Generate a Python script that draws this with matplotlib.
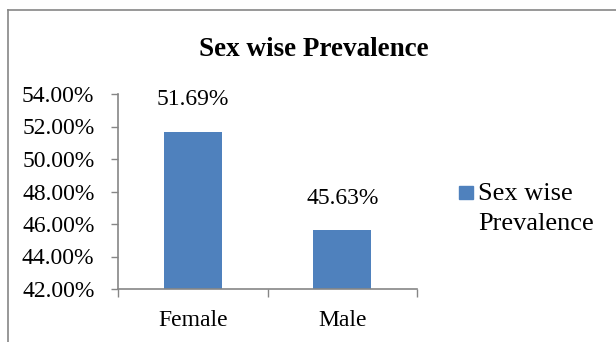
import matplotlib
matplotlib.use('Agg')
import matplotlib.pyplot as plt
from matplotlib.lines import Line2D
from matplotlib.patches import Rectangle
from matplotlib.ticker import FuncFormatter

CATEGORIES = ['Female', 'Male']
PREVALENCE = [51.69, 45.63]
Y_TICKS = [42, 44, 46, 48, 50, 52, 54]
SERIES_NAME = 'Sex wise\nPrevalence'
TITLE = 'Sex wise Prevalence'

BAR_COLOR = '#4F81BD'
AXIS_COLOR = '#868686'

plt.rcParams['font.family'] = ['Liberation Serif', 'DejaVu Serif']


def main():
    """Draw the sex wise prevalence bar chart."""
    fig = plt.figure(figsize=(6.16, 3.42), dpi=100)

    # chart area border (cut off at the right and bottom like the source)
    fig.add_artist(Line2D([8 / 616, 1.0], [1 - 10 / 342, 1 - 10 / 342],
                          transform=fig.transFigure, color=AXIS_COLOR, lw=1.2))
    fig.add_artist(Line2D([8 / 616, 8 / 616], [0.0, 1 - 10 / 342],
                          transform=fig.transFigure, color=AXIS_COLOR, lw=1.2))

    axes = fig.add_axes([118 / 616, 1 - 289 / 342, 299 / 616, 195 / 342])
    xs = list(range(len(CATEGORIES)))
    bars = axes.bar(xs, PREVALENCE, width=0.39, color=BAR_COLOR)

    axes.set_xlim(-0.5, len(CATEGORIES) - 0.5)
    axes.set_ylim(Y_TICKS[0], Y_TICKS[-1])
    axes.set_yticks(Y_TICKS)
    axes.yaxis.set_major_formatter(FuncFormatter(lambda v, pos: f'{v:.2f}%'))

    # category labels in the middle, ticks on the boundaries
    axes.set_xticks([x - 0.5 for x in xs] + [xs[-1] + 0.5])
    axes.set_xticklabels([])
    axes.set_xticks(xs, minor=True)
    axes.set_xticklabels(CATEGORIES, minor=True)

    axes.tick_params(axis='y', length=5, width=1, color=AXIS_COLOR,
                     labelsize=17, pad=12)
    axes.tick_params(axis='x', which='major', length=6, width=1, color=AXIS_COLOR)
    axes.tick_params(axis='x', which='minor', length=0, labelsize=17, pad=15)

    for side in ('top', 'right'):
        axes.spines[side].set_visible(False)
    for side in ('left', 'bottom'):
        axes.spines[side].set_color(AXIS_COLOR)
        axes.spines[side].set_linewidth(1.2)

    for bar, value in zip(bars, PREVALENCE):
        axes.annotate(f'{value:.2f}%', (bar.get_x() + bar.get_width() / 2, value),
                      xytext=(0, 23), textcoords='offset points',
                      ha='center', va='center', fontsize=17)

    fig.text(314 / 616, 1 - 49 / 342, TITLE, ha='center', va='center',
             fontsize=19.5, fontweight='bold')

    # legend: square key next to a two line label
    fig.add_artist(Rectangle((459 / 616, 1 - 199 / 342), 14 / 616, 13 / 342,
                             transform=fig.transFigure, color=BAR_COLOR))
    fig.text(478 / 616, 1 - 183 / 342, SERIES_NAME, ha='left', va='top',
             fontsize=19, linespacing=1.45)

    fig.savefig('out.png', dpi=100)


if __name__ == '__main__':
    main()
